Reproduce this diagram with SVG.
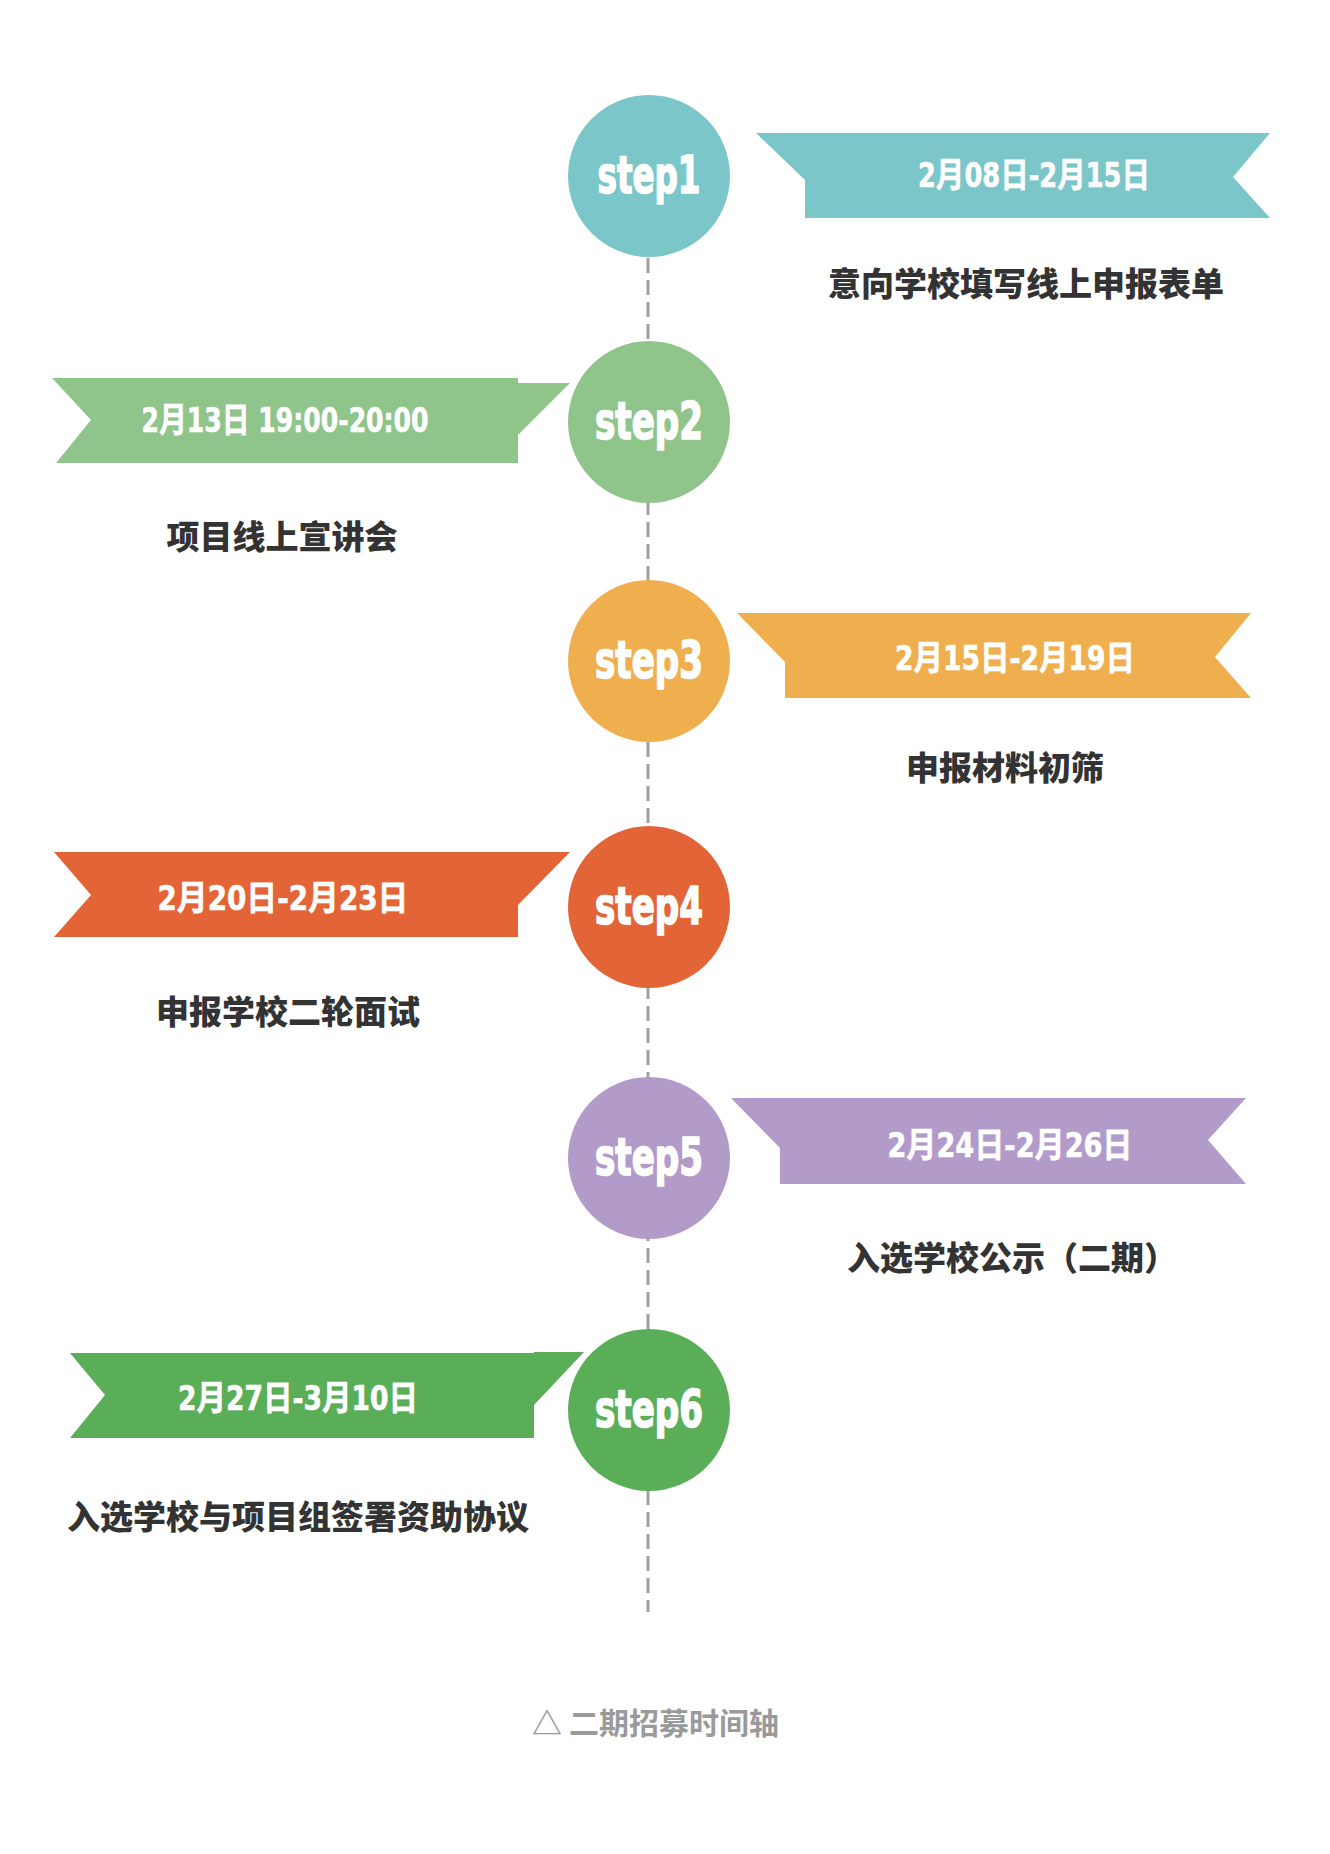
<svg xmlns="http://www.w3.org/2000/svg" width="1330" height="1854" viewBox="0 0 1330 1854">
<style>
.step{font-family:"DejaVu Sans Condensed","DejaVu Sans","Liberation Sans",sans-serif;font-weight:bold;font-size:51px;fill:#fff;stroke:#fff;stroke-width:1.6;text-anchor:middle}
.date{font-family:"DejaVu Sans Condensed","Noto Sans CJK SC","DejaVu Sans",sans-serif;font-weight:bold;font-size:34px;fill:#fff;stroke:#fff;stroke-width:0.6;text-anchor:middle}
.desc{font-family:"Noto Sans CJK SC","Noto Sans",sans-serif;font-weight:900;font-size:33px;fill:#333}
.cap{font-family:"Noto Sans CJK SC","Noto Sans",sans-serif;font-weight:bold;font-size:30px;fill:#9a9a9a}
.axis{stroke:#a0a0a0;stroke-width:3;stroke-dasharray:15 7;fill:none}
</style>
<rect width="1330" height="1854" fill="#fff"/>
<g id="connectors">
<line class="axis" x1="648" y1="258" x2="648" y2="1612"/>
</g>
<g id="step1">
<circle cx="649" cy="176" r="81" fill="#7bc6c8"/>
<text class="step" x="649" y="193" textLength="103" lengthAdjust="spacingAndGlyphs">step1</text>
<polygon points="756,133 1270,133 1233,177 1270,218 805,218 805,180" fill="#7bc6c8"/>
<text class="date" x="1034" y="187" textLength="232" lengthAdjust="spacingAndGlyphs">2月08日-2月15日</text>
<text class="desc" x="1026" y="296" text-anchor="middle">意向学校填写线上申报表单</text>
</g>
<g id="step2">
<circle cx="649" cy="422" r="81" fill="#8fc48b"/>
<text class="step" x="649" y="439" textLength="108" lengthAdjust="spacingAndGlyphs">step2</text>
<polygon points="52,378 518,378 518,383 570,383 518,435 518,463 56,463 91,420" fill="#8fc48b"/>
<text class="date" x="285" y="432" textLength="287" lengthAdjust="spacingAndGlyphs">2月13日 19:00-20:00</text>
<text class="desc" x="282" y="549" text-anchor="middle">项目线上宣讲会</text>
</g>
<g id="step3">
<circle cx="649" cy="661" r="81" fill="#f0af4f"/>
<text class="step" x="649" y="678" textLength="108" lengthAdjust="spacingAndGlyphs">step3</text>
<polygon points="737,613 1251,613 1215,657 1251,698 785,698 785,662" fill="#f0af4f"/>
<text class="date" x="1015" y="670" textLength="240" lengthAdjust="spacingAndGlyphs">2月15日-2月19日</text>
<text class="desc" x="1005" y="780" text-anchor="middle">申报材料初筛</text>
</g>
<g id="step4">
<circle cx="649" cy="907" r="81" fill="#e36437"/>
<text class="step" x="649" y="924" textLength="108" lengthAdjust="spacingAndGlyphs">step4</text>
<polygon points="54,852 570,852 518,905 518,937 54,937 91,895" fill="#e36437"/>
<text class="date" x="283" y="910" textLength="251" lengthAdjust="spacingAndGlyphs">2月20日-2月23日</text>
<text class="desc" x="288" y="1024" text-anchor="middle">申报学校二轮面试</text>
</g>
<g id="step5">
<circle cx="649" cy="1158" r="81" fill="#b39bc9"/>
<text class="step" x="649" y="1175" textLength="108" lengthAdjust="spacingAndGlyphs">step5</text>
<polygon points="731,1098 1246,1098 1208,1140 1246,1184 780,1184 780,1148" fill="#b39bc9"/>
<text class="date" x="1010" y="1157" textLength="245" lengthAdjust="spacingAndGlyphs">2月24日-2月26日</text>
<text class="desc" x="847" y="1270">入选学校公示（二期）</text>
</g>
<g id="step6">
<circle cx="649" cy="1410" r="81" fill="#5aae57"/>
<text class="step" x="649" y="1427" textLength="108" lengthAdjust="spacingAndGlyphs">step6</text>
<polygon points="70,1353 534,1353 534,1352 584,1352 534,1405 534,1438 70,1438 105,1395" fill="#5aae57"/>
<text class="date" x="298" y="1410" textLength="240" lengthAdjust="spacingAndGlyphs">2月27日-3月10日</text>
<text class="desc" x="298" y="1529" text-anchor="middle">入选学校与项目组签署资助协议</text>
</g>
<g id="caption">
<text class="cap" y="1734"><tspan x="532">△</tspan><tspan x="569">二期招募时间轴</tspan></text>
</g>
</svg>
